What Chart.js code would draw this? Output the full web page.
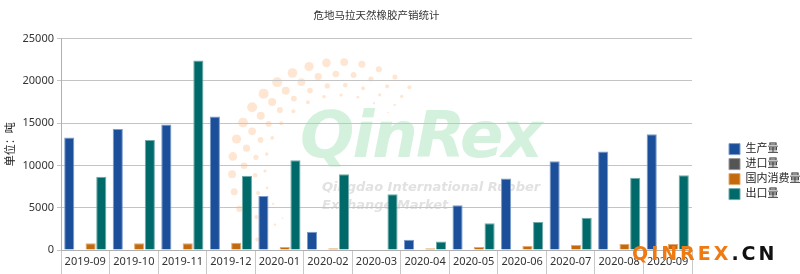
<!DOCTYPE html>
<html>
<head>
<meta charset="utf-8">
<script src="https://cdn.jsdelivr.net/npm/chart.js@4/dist/chart.umd.min.js"></script>
<style>
  html, body { margin: 0; padding: 0; background: #fff; }
  #wrap { position: relative; width: 800px; height: 274px; overflow: hidden; }
  #chart { position: absolute; left: 0; top: 0; z-index: 2; }
  #dots { position: absolute; left: 0; top: 0; z-index: 0; }
  .wm { position: absolute; font-family: "DejaVu Sans", sans-serif; font-style: italic; font-weight: bold; white-space: nowrap; z-index: 1; }
  #wmBig { left: 300px; top: 98px; font-size: 64px; color: rgba(160, 225, 180, 0.45); letter-spacing: -2px; }
  #wmSub { left: 322px; top: 178px; font-size: 13px; line-height: 18px; color: rgba(200, 200, 200, 0.55); }
  #site { position: absolute; left: 632px; top: 242px; z-index: 3; font-family: "DejaVu Sans", sans-serif; font-weight: bold; font-size: 19px; letter-spacing: 3px; white-space: nowrap; }
  #site .o { color: #f07a12; }
  #site .k { color: #111; }
</style>
</head>
<body>
<div id="wrap">
  <canvas id="dots" width="800" height="274"></canvas>
  <div class="wm" id="wmBig">QinRex</div>
  <div class="wm" id="wmSub">Qingdao International Rubber<br>Exchange Market</div>
  <canvas id="chart" width="800" height="274"></canvas>
  <div id="site"><span class="o">QINREX</span><span class="k">.CN</span></div>
</div>
<script>
// 危地马拉天然橡胶产销统计（单位：吨）
const months = ["2019-09", "2019-10", "2019-11", "2019-12", "2020-01", "2020-02", "2020-03",
  "2020-04", "2020-05", "2020-06", "2020-07", "2020-08", "2020-09"];
const production = [13300, 14300, 14850, 15800, 6400, 2150, 0, 1200, 5300, 8450, 10500, 11650, 13700];
const imports = [0, 0, 0, 0, 0, 0, 0, 0, 0, 0, 0, 0, 0];
const consumption = [800, 800, 800, 870, 360, 200, 0, 200, 360, 480, 600, 710, 700];
const exports = [8650, 13000, 22400, 8770, 10600, 8950, 6600, 1000, 3170, 3300, 3800, 8550, 8850];
const yTicks = [0, 5000, 10000, 15000, 20000, 25000];

const font = '"Noto Sans", "Noto Sans CJK SC", sans-serif';

// faint dotted arc of the background logo
function drawLogoDots() {
  const ctx = document.getElementById("dots").getContext("2d");
  ctx.fillStyle = "rgba(253, 205, 165, 0.5)";
  const rows = [[108, 5], [96, 4], [85, 3], [75, 2]];
  rows.forEach(([r, size]) => {
    const n = Math.round(r / 6);
    for (let i = 0; i <= n; i++) {
      const a = (140 + (170 * i) / n) * Math.PI / 180;
      const fade = Math.sin((Math.PI * i) / n) * 0.6 + 0.4;
      ctx.beginPath();
      ctx.arc(340 + r * Math.cos(a), 170 + r * Math.sin(a), size * fade, 0, Math.PI * 2);
      ctx.fill();
    }
  });
}
drawLogoDots();

new Chart(document.getElementById("chart"), {
  type: "bar",
  data: {
    labels: months,
    datasets: [
      { label: "生产量", data: production, backgroundColor: "#1c4f99", borderColor: "#7c9ccc" },
      { label: "进口量", data: imports, backgroundColor: "#555555", borderColor: "#999999" },
      { label: "国内消费量", data: consumption, backgroundColor: "#c4690c", borderColor: "#e0aa70" },
      { label: "出口量", data: exports, backgroundColor: "#006a6a", borderColor: "#70aaaa" },
    ].map((d) => ({ ...d, borderWidth: 1, categoryPercentage: 0.88, barPercentage: 0.95 })),
  },
  options: {
    responsive: false,
    animation: false,
    layout: { padding: { left: 4, right: 0, top: 6, bottom: 0 } },
    scales: {
      x: {
        grid: { offset: true, drawOnChartArea: false, tickLength: 24, color: "#c8c8c8" },
        border: { color: "#b0b0b0" },
        afterFit: (axis) => { axis.height = 24; },
        ticks: { color: "#333", font: { family: font, size: 11 }, maxRotation: 0, padding: -19 },
      },
      y: {
        min: 0,
        max: 25000,
        afterBuildTicks: (axis) => { axis.ticks = yTicks.map((v) => ({ value: v })); },
        afterFit: (axis) => { axis.width = 57; },
        grid: { color: "#c4c4c4", tickLength: 4 },
        border: { display: true, color: "#b0b0b0" },
        ticks: { color: "#333", font: { family: font, size: 11 }, padding: 3, callback: (v) => String(v) },
        title: { display: true, text: "单位：吨", color: "#222", font: { family: font, size: 11 }, padding: 0 },
      },
      // empty spacer between plot and legend
      gap: {
        type: "linear",
        position: "right",
        display: true,
        afterFit: (axis) => { axis.width = 33; },
        grid: { display: false },
        border: { display: false },
        ticks: { display: false },
      },
    },
    plugins: {
      title: {
        display: true,
        fullSize: false,
        text: "危地马拉天然橡胶产销统计",
        color: "#333",
        font: { family: font, size: 10.5, weight: "normal" },
        padding: { top: 4, bottom: 16 },
      },
      legend: {
        position: "right",
        maxWidth: 75,
        title: { display: true, text: " ", padding: { top: 50 }, font: { size: 11 } },
        labels: {
          color: "#222",
          font: { family: font, size: 11 },
          boxWidth: 11,
          boxHeight: 11,
          padding: 4,
        },
      },
      tooltip: { enabled: false },
    },
  },
});
</script>
</body>
</html>
